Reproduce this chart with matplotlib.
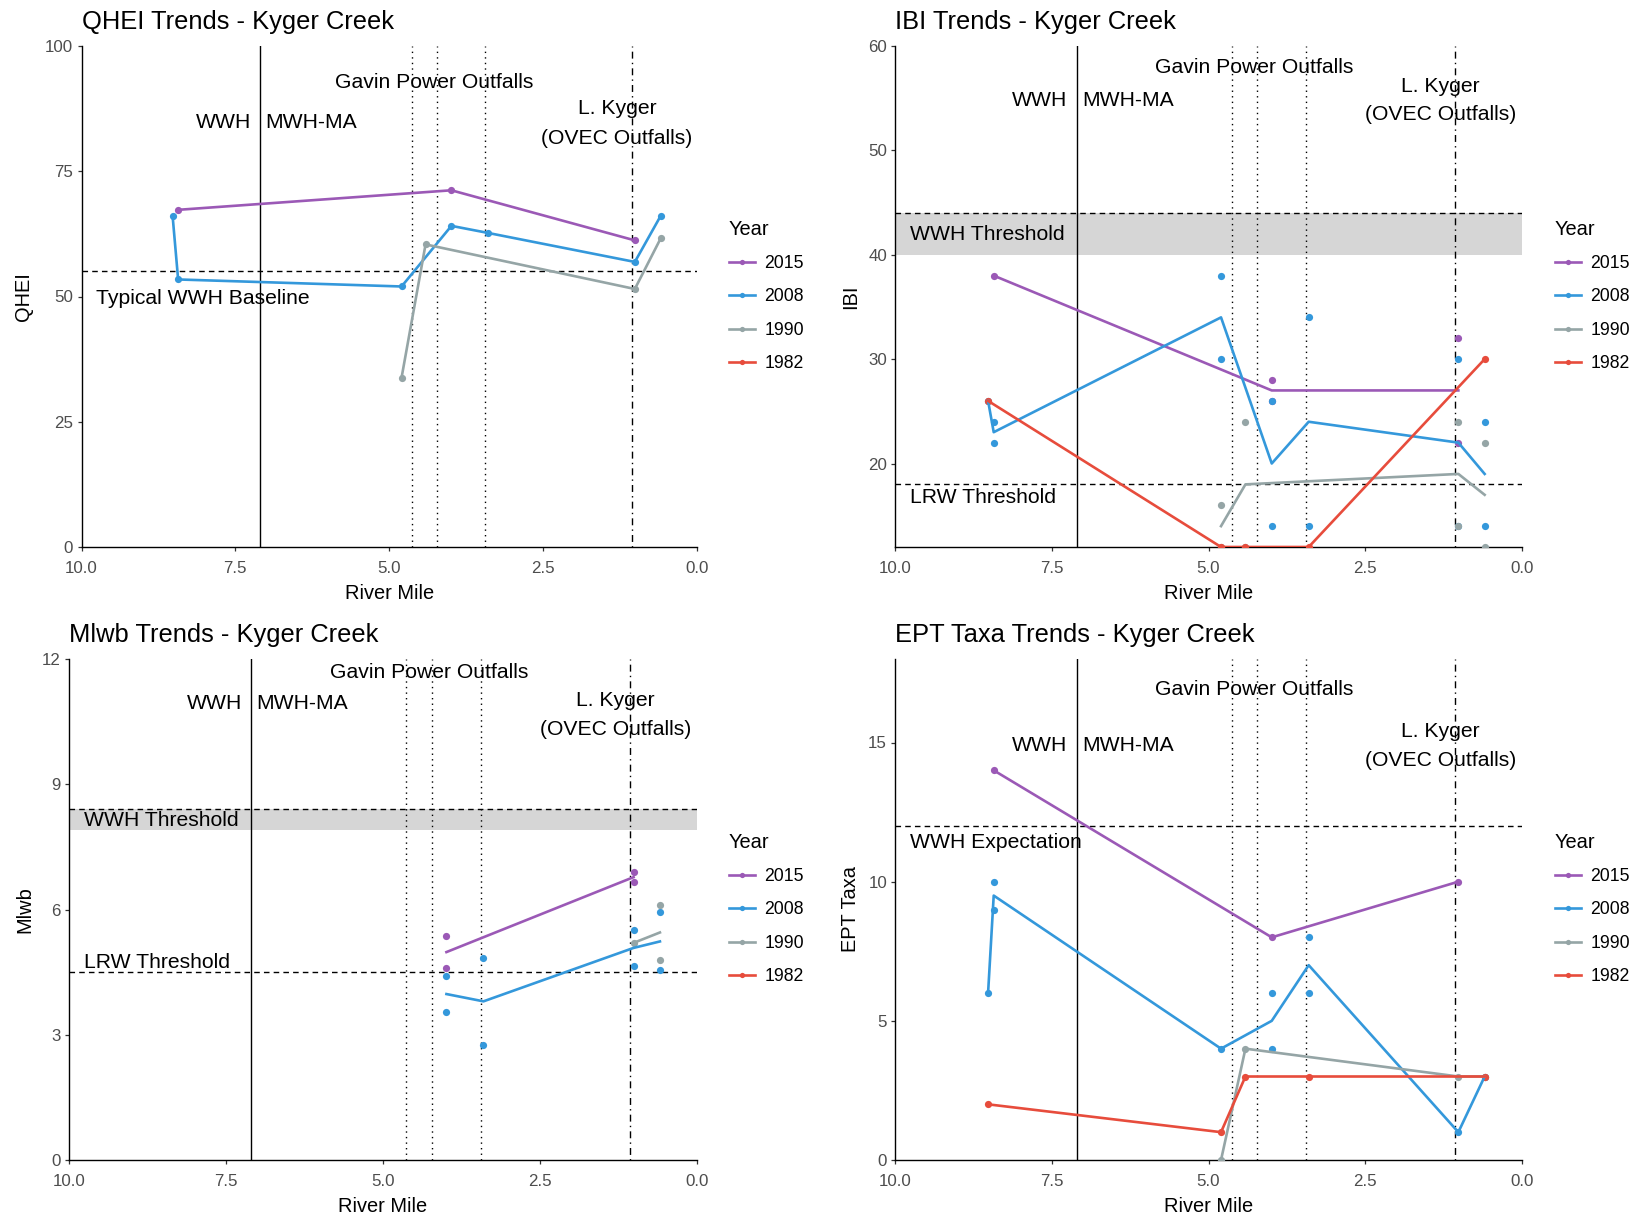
import pandas as pd
import matplotlib
matplotlib.use("Agg")
import matplotlib.pyplot as plt
from matplotlib.lines import Line2D

plt.rcParams['font.family'] = ['Liberation Sans', 'DejaVu Sans']

# sampling years, plotted in this order
years = [2015, 2008, 1990, 1982]
year_colors = ['#9B59B6', '#3498DB', '#95A5A6', '#E74C3C']

# QHEI scores per site (river mile)
qhei_mile = [8.43, 3.99, 1.01,
             8.52, 8.43, 4.80, 3.99, 3.40, 1.01, 0.59,
             4.80, 4.41, 1.01, 0.59]
qhei_year = [2015] * 3 + [2008] * 7 + [1990] * 4
qhei_value = [67.3, 71.2, 61.2,
              66.1, 53.4, 52.0, 64.1, 62.7, 56.9, 66.1,
              33.8, 60.4, 51.5, 61.6]

# IBI samples (some sites sampled twice)
ibi_mile = [8.43, 3.99, 3.99, 1.01, 1.01,
            8.52, 8.43, 8.43, 4.80, 4.80, 3.99, 3.99, 3.40, 3.40, 1.01, 1.01, 0.59, 0.59,
            4.80, 4.80, 4.41, 4.41, 1.01, 1.01, 0.59, 0.59,
            8.52, 4.80, 4.41, 3.40, 0.59]
ibi_year = [2015] * 5 + [2008] * 13 + [1990] * 8 + [1982] * 5
ibi_value = [38, 28, 26, 32, 22,
             26, 24, 22, 38, 30, 26, 14, 34, 14, 30, 14, 24, 14,
             16, 12, 24, 12, 24, 14, 22, 12,
             26, 12, 12, 12, 30]

# Mlwb samples
mlwb_mile = [3.99, 3.99, 1.01, 1.01,
             3.99, 3.99, 3.40, 3.40, 1.01, 1.01, 0.59, 0.59,
             1.01, 0.59, 0.59]
mlwb_year = [2015] * 4 + [2008] * 8 + [1990] * 3
mlwb_value = [5.36, 4.60, 6.89, 6.66,
              4.40, 3.55, 4.85, 2.75, 5.52, 4.64, 5.93, 4.54,
              5.20, 6.10, 4.80]

# EPT taxa counts
ept_mile = [8.43, 3.99, 1.01,
            8.52, 8.43, 8.43, 4.80, 3.99, 3.99, 3.40, 3.40, 1.01, 0.59,
            4.80, 4.41, 1.01, 0.59,
            8.52, 4.80, 4.41, 3.40, 0.59]
ept_year = [2015] * 3 + [2008] * 10 + [1990] * 4 + [1982] * 5
ept_value = [14, 8, 10,
             6, 10, 9, 4, 6, 4, 8, 6, 1, 3,
             0, 4, 3, 3,
             2, 1, 3, 3, 3]

# landmarks along the creek
use_boundary = 7.1
gavin_outfalls = [4.63, 4.22, 3.44]
kyger_outfall = 1.06

W, H = 1642, 1220
fig = plt.figure(figsize=(W / 100, H / 100), dpi=100)


def rect(l, r, t, b):
    return [l / W, 1 - b / H, (r - l) / W, (b - t) / H]


def trend_panel(box, mile, year, value, title, ylabel, ylim, yticks,
                text_y, refs, band, legend_at, ylab_x):
    ax = fig.add_axes(rect(*box))
    df = pd.DataFrame({'mile': mile, 'year': year, 'value': value})

    if band is not None:
        ax.axhspan(band[0], band[1], color='#D6D6D6', lw=0, zorder=0)
    for y, label, ty in refs:
        ax.axhline(y, color='black', lw=1.0, ls=(0, (4, 3)), zorder=1)
        ax.text(9.76, ty, label, ha='left', va='center', fontsize=15.2, color='black')

    ax.axvline(use_boundary, color='black', lw=1.0, zorder=1)
    for m in gavin_outfalls:
        ax.axvline(m, color='black', lw=1.0, ls=(0, (1, 3)), zorder=1)
    ax.axvline(kyger_outfall, color='black', lw=1.0, ls=(0, (1, 3, 5, 3)), zorder=1)

    gy, wy, ky, oy = text_y
    ax.text(4.27, gy, 'Gavin Power Outfalls', ha='center', va='center', fontsize=15.2)
    ax.text(7.25, wy, 'WWH', ha='right', va='center', fontsize=15.2)
    ax.text(7.02, wy, 'MWH-MA', ha='left', va='center', fontsize=15.2)
    ax.text(1.30, ky, 'L. Kyger', ha='center', va='center', fontsize=15.2)
    ax.text(1.30, oy, '(OVEC Outfalls)', ha='center', va='center', fontsize=15.2)

    for yr, c in zip(years, year_colors):
        sub = df[df['year'] == yr]
        ax.plot(sub['mile'], sub['value'], 'o', color=c, ms=5.2, mec='none', zorder=3)
    for yr, c in zip(years, year_colors):
        sub = df[df['year'] == yr]
        if len(sub) == 0:
            continue
        means = sub.groupby('mile')['value'].mean().sort_index(ascending=False)
        ax.plot(means.index, means.values, '-', color=c, lw=1.9, zorder=4)

    ax.set_xlim(10, 0)
    ax.set_xticks([10, 7.5, 5, 2.5, 0])
    ax.set_xticklabels(['10.0', '7.5', '5.0', '2.5', '0.0'])
    ax.set_ylim(*ylim)
    ax.set_yticks(yticks)

    for side in ['top', 'right']:
        ax.spines[side].set_visible(False)
    for side in ['left', 'bottom']:
        ax.spines[side].set_linewidth(1.0)
        ax.spines[side].set_color('black')
    ax.tick_params(length=3, width=0.9, color='#333333', labelcolor='#4D4D4D',
                   labelsize=12.2)
    ax.tick_params(axis='x', pad=7)
    ax.tick_params(axis='y', pad=3)

    ax.set_title(title, loc='left', fontsize=18.4, pad=12)
    ax.set_xlabel('River Mile', fontsize=14.4)
    ax.xaxis.label.set_va('center')
    ax.xaxis.set_label_coords(0.5, -0.093)
    ax.set_ylabel(ylabel, fontsize=14.4)
    ax.yaxis.label.set_va('center')
    ax.yaxis.set_label_coords(ylab_x, 0.5)

    handles = [Line2D([], [], color=c, lw=1.9, marker='o', ms=3.8, mec='none')
               for c in year_colors]
    ax.legend(handles, [str(y) for y in years], title='Year', loc='upper left',
              bbox_to_anchor=(legend_at[0] / W, 1 - legend_at[1] / H),
              bbox_transform=fig.transFigure, frameon=False, fontsize=12.7,
              title_fontsize=14.4, handlelength=1.45, handletextpad=0.55,
              labelspacing=0.92, borderpad=0, borderaxespad=0, alignment='left')
    return ax


trend_panel((81.5, 697, 46, 547), qhei_mile, qhei_year, qhei_value,
            'QHEI Trends - Kyger Creek', 'QHEI', (0, 100), [0, 25, 50, 75, 100],
            (92.7, 84.8, 87.6, 81.6), [(55, 'Typical WWH Baseline', 49.7)], None,
            (729, 220), -0.095)

trend_panel((895.4, 1521.6, 46, 547), ibi_mile, ibi_year, ibi_value,
            'IBI Trends - Kyger Creek', 'IBI', (12, 60), [20, 30, 40, 50, 60],
            (57.9, 54.8, 56.1, 53.4),
            [(44, 'WWH Threshold', 41.9), (18, 'LRW Threshold', 16.7)], (40, 44),
            (1555, 220), -0.072)

trend_panel((69, 697, 659, 1160), mlwb_mile, mlwb_year, mlwb_value,
            'Mlwb Trends - Kyger Creek', 'Mlwb', (0, 12), [0, 3, 6, 9, 12],
            (11.68, 10.93, 11.01, 10.31),
            [(8.4, 'WWH Threshold', 8.12), (4.5, 'LRW Threshold', 4.72)], (7.9, 8.4),
            (729, 833), -0.07)

trend_panel((895.4, 1521.6, 659, 1160), ept_mile, ept_year, ept_value,
            'EPT Taxa Trends - Kyger Creek', 'EPT Taxa', (0, 18), [0, 5, 10, 15],
            (16.9, 14.9, 15.4, 14.34), [(12, 'WWH Expectation', 11.39)], None,
            (1555, 833), -0.072)

fig.savefig('out.png', dpi=100)
